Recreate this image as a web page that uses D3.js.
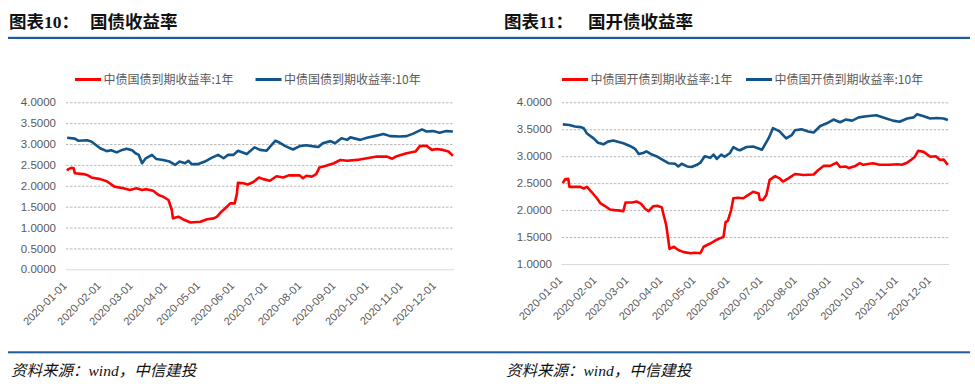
<!DOCTYPE html>
<html>
<head>
<meta charset="utf-8">
<script src="https://cdn.jsdelivr.net/npm/d3@7"></script>
<style>
  html, body { margin: 0; padding: 0; background: #fff; }
  svg { display: block; }
</style>
</head>
<body>
<svg id="chart" width="975" height="386"></svg>
<script>
// ---------- data ----------
const monthTicks = ["2020-01-01","2020-02-01","2020-03-01","2020-04-01","2020-05-01","2020-06-01",
  "2020-07-01","2020-08-01","2020-09-01","2020-10-01","2020-11-01","2020-12-01"];
const yTicksLeft = [0, 0.5, 1, 1.5, 2, 2.5, 3, 3.5, 4];
const yTicksRight = [1, 1.5, 2, 2.5, 3, 3.5, 4];
const titlesLeft = ["图表10：", "国债收益率"];
const titlesRight = ["图表11：", "国开债收益率"];
const legendLeft = ["中债国债到期收益率:1年", "中债国债到期收益率:10年"];
const legendRight = ["中债国开债到期收益率:1年", "中债国开债到期收益率:10年"];
const sourceText = "资料来源：wind，中信建投";

// 中债国债到期收益率:1年
const gov1y = [["2020-01-02",2.36],["2020-01-03",2.40],["2020-01-06",2.43],["2020-01-08",2.42],["2020-01-09",2.30],["2020-01-17",2.28],["2020-01-20",2.26],["2020-01-24",2.20],["2020-02-01",2.16],["2020-02-07",2.11],["2020-02-14",1.98],["2020-02-22",1.94],["2020-02-28",1.90],["2020-03-05",1.94],["2020-03-10",1.90],["2020-03-14",1.92],["2020-03-20",1.88],["2020-03-25",1.78],["2020-03-29",1.74],["2020-04-03",1.66],["2020-04-06",1.42],["2020-04-07",1.22],["2020-04-12",1.26],["2020-04-16",1.20],["2020-04-23",1.12],["2020-05-02",1.14],["2020-05-08",1.20],["2020-05-14",1.22],["2020-05-17",1.26],["2020-05-21",1.38],["2020-05-26",1.50],["2020-05-29",1.58],["2020-06-02",1.58],["2020-06-04",1.80],["2020-06-05",2.07],["2020-06-10",2.06],["2020-06-14",2.03],["2020-06-19",2.09],["2020-06-24",2.20],["2020-06-28",2.16],["2020-07-04",2.12],["2020-07-10",2.23],["2020-07-16",2.20],["2020-07-21",2.25],["2020-07-31",2.25],["2020-08-03",2.18],["2020-08-06",2.24],["2020-08-11",2.22],["2020-08-15",2.28],["2020-08-18",2.44],["2020-08-24",2.48],["2020-08-31",2.54],["2020-09-06",2.62],["2020-09-12",2.60],["2020-09-21",2.62],["2020-09-30",2.66],["2020-10-09",2.70],["2020-10-18",2.70],["2020-10-23",2.65],["2020-10-27",2.71],["2020-11-05",2.78],["2020-11-13",2.82],["2020-11-17",2.95],["2020-11-23",2.96],["2020-11-28",2.86],["2020-12-02",2.88],["2020-12-08",2.86],["2020-12-13",2.82],["2020-12-17",2.72]];

// 中债国债到期收益率:10年
const gov10y = [["2020-01-02",3.15],["2020-01-09",3.13],["2020-01-12",3.08],["2020-01-20",3.09],["2020-01-24",3.06],["2020-02-01",2.90],["2020-02-07",2.83],["2020-02-11",2.85],["2020-02-16",2.80],["2020-02-21",2.86],["2020-02-25",2.89],["2020-03-01",2.85],["2020-03-04",2.78],["2020-03-07",2.74],["2020-03-10",2.54],["2020-03-13",2.65],["2020-03-19",2.74],["2020-03-23",2.64],["2020-03-29",2.62],["2020-04-04",2.58],["2020-04-09",2.50],["2020-04-13",2.58],["2020-04-18",2.54],["2020-04-21",2.60],["2020-04-24",2.52],["2020-04-30",2.52],["2020-05-06",2.58],["2020-05-12",2.67],["2020-05-18",2.74],["2020-05-23",2.66],["2020-05-27",2.74],["2020-06-01",2.74],["2020-06-05",2.84],["2020-06-13",2.76],["2020-06-20",2.92],["2020-06-25",2.86],["2020-07-01",2.84],["2020-07-09",3.08],["2020-07-13",3.03],["2020-07-18",2.95],["2020-07-25",2.87],["2020-07-31",2.95],["2020-08-06",2.97],["2020-08-11",2.95],["2020-08-17",2.93],["2020-08-21",3.02],["2020-08-28",3.07],["2020-09-01",3.02],["2020-09-07",3.14],["2020-09-12",3.10],["2020-09-15",3.16],["2020-09-24",3.10],["2020-09-30",3.15],["2020-10-07",3.19],["2020-10-15",3.24],["2020-10-21",3.19],["2020-10-30",3.18],["2020-11-05",3.19],["2020-11-11",3.25],["2020-11-19",3.35],["2020-11-23",3.30],["2020-11-29",3.31],["2020-12-05",3.27],["2020-12-11",3.31],["2020-12-17",3.30]];

// 中债国开债到期收益率:1年
const cdb1y = [["2020-01-02",2.50],["2020-01-04",2.57],["2020-01-07",2.58],["2020-01-08",2.43],["2020-01-18",2.43],["2020-01-21",2.40],["2020-01-24",2.43],["2020-01-28",2.34],["2020-02-02",2.22],["2020-02-05",2.13],["2020-02-09",2.08],["2020-02-14",2.01],["2020-02-18",2.00],["2020-02-23",1.99],["2020-02-26",1.98],["2020-02-28",2.14],["2020-03-05",2.14],["2020-03-09",2.16],["2020-03-13",2.12],["2020-03-17",2.02],["2020-03-20",1.98],["2020-03-24",2.07],["2020-03-28",2.08],["2020-04-01",2.05],["2020-04-03",1.88],["2020-04-05",1.72],["2020-04-08",1.28],["2020-04-12",1.32],["2020-04-16",1.26],["2020-04-21",1.22],["2020-04-27",1.20],["2020-05-01",1.21],["2020-05-06",1.20],["2020-05-09",1.32],["2020-05-15",1.38],["2020-05-21",1.45],["2020-05-24",1.48],["2020-05-27",1.50],["2020-05-29",1.78],["2020-05-31",1.80],["2020-06-03",2.00],["2020-06-05",2.22],["2020-06-09",2.23],["2020-06-14",2.22],["2020-06-17",2.26],["2020-06-23",2.34],["2020-06-28",2.31],["2020-06-29",2.19],["2020-07-02",2.19],["2020-07-05",2.28],["2020-07-08",2.56],["2020-07-13",2.63],["2020-07-17",2.59],["2020-07-20",2.53],["2020-07-25",2.59],["2020-07-31",2.67],["2020-08-08",2.65],["2020-08-17",2.66],["2020-08-21",2.74],["2020-08-26",2.82],["2020-09-01",2.82],["2020-09-07",2.88],["2020-09-10",2.80],["2020-09-15",2.81],["2020-09-18",2.78],["2020-09-24",2.82],["2020-09-28",2.87],["2020-10-01",2.84],["2020-10-10",2.87],["2020-10-16",2.84],["2020-10-25",2.84],["2020-11-01",2.85],["2020-11-05",2.84],["2020-11-10",2.88],["2020-11-14",2.94],["2020-11-17",2.99],["2020-11-20",3.10],["2020-11-25",3.08],["2020-12-01",2.99],["2020-12-06",3.00],["2020-12-10",2.93],["2020-12-13",2.94],["2020-12-17",2.84]];

// 中债国开债到期收益率:10年
const cdb10y = [["2020-01-02",3.59],["2020-01-08",3.58],["2020-01-13",3.55],["2020-01-18",3.54],["2020-01-21",3.52],["2020-01-24",3.42],["2020-01-30",3.33],["2020-02-03",3.25],["2020-02-08",3.22],["2020-02-12",3.27],["2020-02-17",3.29],["2020-02-21",3.27],["2020-02-26",3.24],["2020-03-03",3.19],["2020-03-08",3.13],["2020-03-11",3.04],["2020-03-15",3.06],["2020-03-18",3.09],["2020-03-23",3.03],["2020-03-27",3.00],["2020-04-01",2.94],["2020-04-07",2.87],["2020-04-13",2.86],["2020-04-16",2.81],["2020-04-19",2.86],["2020-04-24",2.81],["2020-04-28",2.80],["2020-05-03",2.84],["2020-05-06",2.88],["2020-05-10",3.00],["2020-05-15",2.97],["2020-05-18",3.03],["2020-05-21",2.95],["2020-05-25",3.03],["2020-05-28",2.99],["2020-06-02",3.06],["2020-06-05",3.17],["2020-06-09",3.12],["2020-06-11",3.11],["2020-06-17",3.17],["2020-06-23",3.18],["2020-07-01",3.12],["2020-07-07",3.33],["2020-07-11",3.52],["2020-07-17",3.46],["2020-07-23",3.33],["2020-07-28",3.39],["2020-07-31",3.48],["2020-08-06",3.50],["2020-08-12",3.46],["2020-08-17",3.44],["2020-08-23",3.56],["2020-08-29",3.61],["2020-09-04",3.68],["2020-09-10",3.63],["2020-09-15",3.68],["2020-09-21",3.66],["2020-09-27",3.72],["2020-10-04",3.74],["2020-10-13",3.76],["2020-10-22",3.70],["2020-10-28",3.66],["2020-11-03",3.64],["2020-11-10",3.70],["2020-11-16",3.72],["2020-11-19",3.78],["2020-11-25",3.74],["2020-12-01",3.70],["2020-12-07",3.71],["2020-12-13",3.70],["2020-12-17",3.67]];

// ---------- drawing ----------
const parse = d3.timeParse("%Y-%m-%d");
const svg = d3.select("#chart");
const RED = "#ff0000", BLUE = "#135488", RULE = "#1f5c99", GREY = "#595959";
const timeDomain = [parse("2020-01-01"), parse("2020-12-18")];

// header and footer rules
svg.append("rect").attr("x", 8).attr("y", 36.8).attr("width", 962).attr("height", 2.2).attr("fill", RULE);
svg.append("rect").attr("x", 8).attr("y", 351.3).attr("width", 962).attr("height", 2).attr("fill", RULE);

function panel(opt) {
  const g = svg.append("g");
  // title
  g.append("text").attr("x", opt.titleX).attr("y", 28)
    .attr("font-family", "'Liberation Serif', 'Noto Sans CJK SC', serif").attr("font-weight", "bold")
    .attr("font-size", 17.5).attr("fill", "#111").text(opt.titles[0]);
  g.append("text").attr("x", opt.titleX2).attr("y", 28)
    .attr("font-family", "'Noto Sans CJK SC', sans-serif").attr("font-weight", "bold")
    .attr("font-size", 17.5).attr("fill", "#111").text(opt.titles[1]);
  // source
  g.append("text").attr("x", opt.titleX + 2).attr("y", 376)
    .attr("font-family", "'Liberation Serif', 'Noto Sans CJK SC', serif").attr("font-style", "italic")
    .attr("font-size", 15.5).attr("fill", "#111").text(sourceText);

  const x = d3.scaleTime().domain(timeDomain).range([opt.x0, opt.x1]);
  const y = d3.scaleLinear().domain(opt.yDomain).range([opt.yBottom, opt.yTop]);

  // gridlines
  const yAxis = d3.axisLeft(y).tickValues(opt.yTicks).tickSize(-(opt.x1 - opt.x0))
    .tickFormat(d3.format(".4f")).tickPadding(opt.x0 - opt.labelX);
  const ya = g.append("g").attr("transform", `translate(${opt.x0},0)`).call(yAxis);
  ya.select(".domain").remove();
  ya.selectAll(".tick line")
    .attr("stroke", d => d === opt.yDomain[0] ? "#d9d9d9" : "#a6a6a6")
    .attr("stroke-width", d => d === opt.yDomain[0] ? 1 : 0.8)
    .attr("stroke-dasharray", d => d === opt.yDomain[0] ? null : "2.5,1.5");
  ya.selectAll(".tick text").attr("font-family", "'Liberation Sans', Arial, sans-serif")
    .attr("font-size", 11.5).attr("fill", GREY);

  // x axis labels
  const xa = g.append("g");
  xa.selectAll("text").data(monthTicks).join("text")
    .attr("transform", d => `translate(${x(parse(d)) + 1.5},${opt.yBottom + 17}) rotate(-45)`)
    .attr("text-anchor", "end")
    .attr("font-family", "'Liberation Sans', Arial, sans-serif")
    .attr("font-size", 11).attr("fill", GREY).text(d => d);

  // lines
  const line = d3.line().x(d => x(parse(d[0]))).y(d => y(d[1]));
  g.append("path").datum(opt.s2).attr("d", line).attr("fill", "none")
    .attr("stroke", BLUE).attr("stroke-width", 2.6).attr("stroke-linejoin", "round");
  g.append("path").datum(opt.s1).attr("d", line).attr("fill", "none")
    .attr("stroke", RED).attr("stroke-width", 2.6).attr("stroke-linejoin", "round");

  // legend
  const lg = g.append("g");
  [[opt.leg1X, RED, opt.legend[0]], [opt.leg2X, BLUE, opt.legend[1]]].forEach(([lx, c, t]) => {
    lg.append("line").attr("x1", lx).attr("x2", lx + 26).attr("y1", 79.5).attr("y2", 79.5)
      .attr("stroke", c).attr("stroke-width", 3);
    lg.append("text").attr("x", lx + 28.5).attr("y", 83.8)
      .attr("font-family", "'Noto Sans CJK SC', sans-serif")
      .attr("font-size", 12).attr("fill", GREY).text(t);
  });
}

panel({
  titles: titlesLeft, titleX: 9, titleX2: 90,
  x0: 66, x1: 454, labelX: 56, yDomain: [0, 4], yTop: 102.3, yBottom: 269.3,
  yTicks: yTicksLeft, s1: gov1y, s2: gov10y, legend: legendLeft, leg1X: 75, leg2X: 255.5
});
panel({
  titles: titlesRight, titleX: 504, titleX2: 588,
  x0: 561.7, x1: 949, labelX: 552, yDomain: [1, 4], yTop: 102.3, yBottom: 264,
  yTicks: yTicksRight, s1: cdb1y, s2: cdb10y, legend: legendRight, leg1X: 562, leg2X: 746
});
</script>
</body>
</html>
